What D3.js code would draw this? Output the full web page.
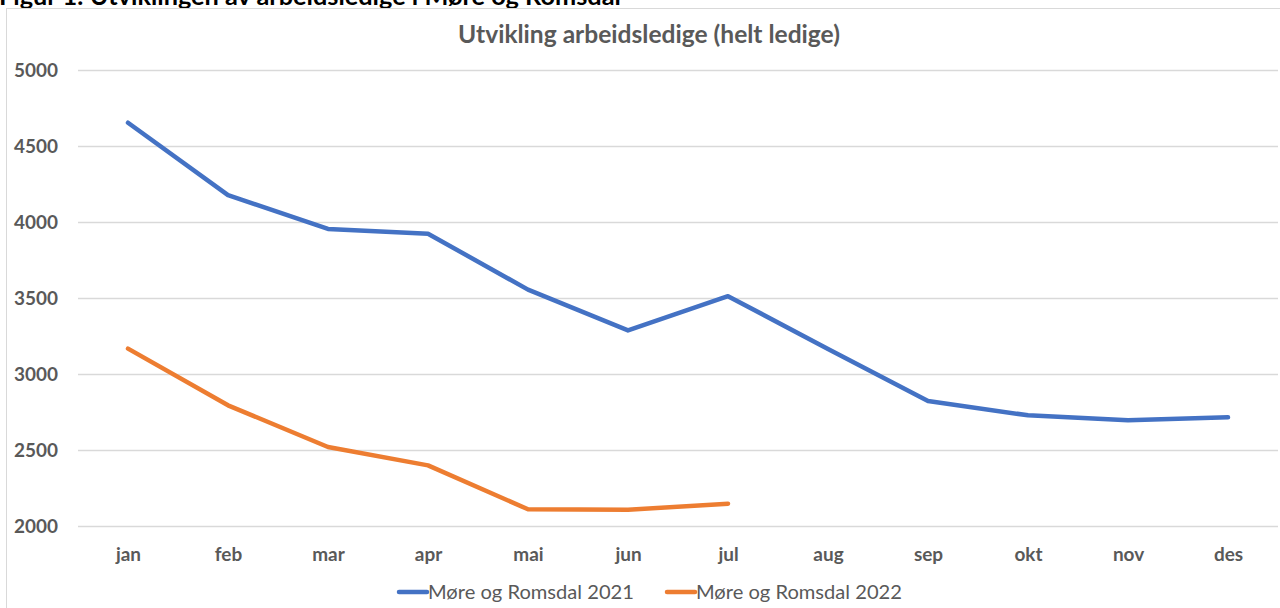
<!DOCTYPE html>
<html>
<head>
<meta charset="utf-8">
<script src="https://cdn.jsdelivr.net/npm/d3@7"></script>
<style>
  html, body { margin: 0; padding: 0; background: #fff; }
  svg { display: block; }
  text { font-family: Lato, "Open Sans", sans-serif; }
</style>
</head>
<body>
<svg id="chart" width="1280" height="608"></svg>
<script>
const months = ["jan","feb","mar","apr","mai","jun","jul","aug","sep","okt","nov","des"];
const series2021 = [4653, 4177, 3954, 3923, 3555, 3287, 3512, 3165, 2822, 2728, 2695, 2715];
const series2022 = [3167, 2794, 2520, 2399, 2110, 2107, 2147];
const yTicks = [2000, 2500, 3000, 3500, 4000, 4500, 5000];
const seriesNames = ["Møre og Romsdal 2021", "Møre og Romsdal 2022"];
const seriesColors = ["#4472C4", "#ED7D31"];
const chartTitle = "Utvikling arbeidsledige (helt ledige)";
const figureCaption = "Figur 1: Utviklingen av arbeidsledige i Møre og Romsdal";

const svg = d3.select("#chart");

// size a text so its drawn width matches the target width
function fit(sel, width) {
  const w = sel.node().getComputedTextLength();
  const fs = parseFloat(sel.attr("font-size"));
  sel.attr("font-size", fs * width / w);
  return fs * width / w;
}

// caption (cut off at the top of the picture)
const cap = svg.append("text")
  .attr("x", -1).attr("y", 5)
  .attr("font-size", 20).attr("font-weight", 700).attr("fill", "#000")
  .text(figureCaption);
fit(cap, 622);

// chart frame
svg.append("rect")
  .attr("x", 6.5).attr("y", 8.5).attr("width", 1290).attr("height", 620)
  .attr("fill", "#fff").attr("stroke", "#d9d9d9").attr("stroke-width", 1);

const x = d3.scalePoint().domain(months).range([78, 1278]).padding(0.5);
const y = d3.scaleLinear().domain([2000, 5000]).range([526, 70]);

// title
const title = svg.append("text")
  .attr("x", 649).attr("y", 43)
  .attr("text-anchor", "middle")
  .attr("font-size", 20).attr("font-weight", 700).attr("fill", "#595959")
  .text(chartTitle);
fit(title, 382);

// measure axis label size from the reference width of "5000"
const probe = svg.append("text").attr("font-size", 17).attr("font-weight", 700).text("5000");
const axisFs = fit(probe, 44);
probe.remove();

// gridlines + y labels
const yAxis = d3.axisLeft(y).tickValues(yTicks).tickSize(-1200).tickPadding(20).tickFormat(d3.format("d"));
const gy = svg.append("g").attr("transform", "translate(78,0)").call(yAxis);
gy.select(".domain").remove();
gy.selectAll(".tick line").attr("stroke", "#d9d9d9").attr("stroke-width", 1.3);
gy.selectAll(".tick text")
  .attr("font-size", axisFs).attr("font-weight", 700).attr("fill", "#595959")
  .attr("font-family", "Lato, sans-serif");

// x labels
const xAxis = d3.axisBottom(x).tickSize(0).tickPadding(22);
const gx = svg.append("g").attr("transform", "translate(0,526)").call(xAxis);
gx.select(".domain").remove();
gx.selectAll(".tick text")
  .attr("font-size", axisFs).attr("font-weight", 700).attr("fill", "#595959")
  .attr("font-family", "Lato, sans-serif");

// lines
const line = d3.line().x((d, i) => x(months[i])).y(d => y(d));
[series2021, series2022].forEach((s, k) => {
  svg.append("path")
    .datum(s)
    .attr("d", line)
    .attr("fill", "none")
    .attr("stroke", seriesColors[k])
    .attr("stroke-width", 4.5)
    .attr("stroke-linejoin", "round")
    .attr("stroke-linecap", "round");
});

// legend
const legendX = [399, 667];
seriesNames.forEach((name, k) => {
  const g = svg.append("g").attr("transform", `translate(${legendX[k]},592)`);
  g.append("line").attr("x1", 0).attr("x2", 28).attr("y1", 0).attr("y2", 0)
    .attr("stroke", seriesColors[k]).attr("stroke-width", 4.5).attr("stroke-linecap", "round");
  const t = g.append("text").attr("x", 29).attr("y", 7)
    .attr("font-size", 17).attr("fill", "#595959")
    .text(name);
  fit(t, 206);
});
</script>
</body>
</html>
